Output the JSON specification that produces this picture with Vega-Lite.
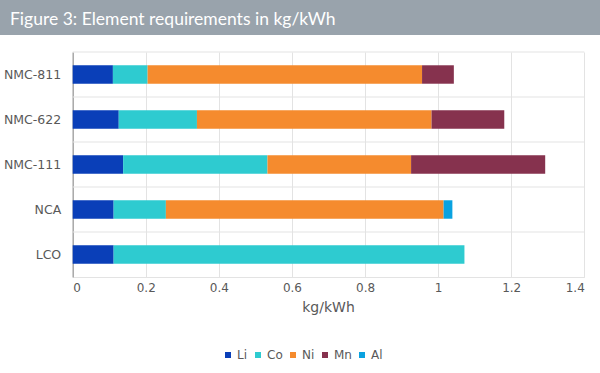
{
  "$schema": "https://vega.github.io/schema/vega-lite/v6.json",
  "padding": 0,
  "autosize": {"type": "pad"},
  "background": "white",
  "spacing": 16,
  "config": {"view": {"stroke": null}, "font": "DejaVu Sans"},
  "vconcat": [
    {
      "width": 600,
      "height": 35,
      "view": {"fill": "#99a3ac", "stroke": null},
      "data": {"values": [{"label": "Figure 3: Element requirements in kg/kWh"}]},
      "mark": {"type": "text", "align": "left", "baseline": "alphabetic", "color": "white", "fontSize": 17.5, "font": "Lato"},
      "encoding": {"text": {"field": "label"}, "x": {"value": 10}, "y": {"value": 24.5}}
    },
    {
      "width": 600,
      "height": 225,
      "layer": [
        {
          "data": {"values": [{"battery": "NMC-811"}, {"battery": "NMC-622"}, {"battery": "NMC-111"}, {"battery": "NCA"}, {"battery": "LCO"}]},
          "mark": {"type": "rule", "color": "#e3e3e3", "strokeWidth": 1},
          "encoding": {
            "y": {"field": "battery", "type": "nominal", "bandPosition": 0, "sort": ["NMC-811", "NMC-622", "NMC-111", "NCA", "LCO"]},
            "x": {"datum": 0},
            "x2": {"datum": 1.4}
          }
        },
        {
          "data": {
            "values": [
              {"battery": "NMC-811", "element": "Li", "value": 0.110},
              {"battery": "NMC-811", "element": "Co", "value": 0.095},
              {"battery": "NMC-811", "element": "Ni", "value": 0.751},
              {"battery": "NMC-811", "element": "Mn", "value": 0.087},
              {"battery": "NMC-622", "element": "Li", "value": 0.126},
              {"battery": "NMC-622", "element": "Co", "value": 0.214},
              {"battery": "NMC-622", "element": "Ni", "value": 0.642},
              {"battery": "NMC-622", "element": "Mn", "value": 0.199},
              {"battery": "NMC-111", "element": "Li", "value": 0.138},
              {"battery": "NMC-111", "element": "Co", "value": 0.395},
              {"battery": "NMC-111", "element": "Ni", "value": 0.393},
              {"battery": "NMC-111", "element": "Mn", "value": 0.367},
              {"battery": "NCA", "element": "Li", "value": 0.112},
              {"battery": "NCA", "element": "Co", "value": 0.143},
              {"battery": "NCA", "element": "Ni", "value": 0.760},
              {"battery": "NCA", "element": "Al", "value": 0.024},
              {"battery": "LCO", "element": "Li", "value": 0.112},
              {"battery": "LCO", "element": "Co", "value": 0.960}
            ]
          },
          "transform": [
            {"calculate": "indexof(['Li', 'Co', 'Ni', 'Mn', 'Al'], datum.element)", "as": "stackOrder"}
          ],
          "mark": {"type": "bar", "height": {"band": 0.41}},
          "encoding": {
            "y": {
              "field": "battery",
              "type": "nominal",
              "sort": ["NMC-811", "NMC-622", "NMC-111", "NCA", "LCO"]
            },
            "x": {
              "field": "value",
              "type": "quantitative",
              "stack": "zero"
            },
            "order": {"field": "stackOrder", "type": "quantitative"},
            "color": {
              "field": "element",
              "type": "nominal",
              "sort": ["Li", "Co", "Ni", "Mn", "Al"],
              "scale": {"domain": ["Li", "Co", "Ni", "Mn", "Al"], "range": ["#0a3fb8", "#2ecbd0", "#f58b2e", "#86324e", "#0aa2e0"]},
              "legend": {
                "title": null,
                "orient": "none",
                "legendX": 222,
                "legendY": 349,
                "direction": "horizontal",
                "padding": 0,
                "symbolType": "square",
                "symbolSize": 36,
                "symbolStrokeWidth": 0,
                "labelFontSize": 12,
                "labelColor": "#595959",
                "columnPadding": 4,
                "labelOffset": 3
              }
            }
          }
        }
      ],
      "encoding": {
        "y": {
          "field": "battery",
          "type": "nominal",
          "sort": ["NMC-811", "NMC-622", "NMC-111", "NCA", "LCO"],
          "scale": {"paddingInner": 0, "paddingOuter": 0},
          "axis": {
            "title": null,
            "grid": false,
            "ticks": false,
            "domain": true,
            "domainColor": "#a8a8a8",
            "domainWidth": 1.5,
            "offset": -72.7,
            "labelPadding": 12,
            "labelFontSize": 12.5,
            "labelColor": "#595959"
          }
        },
        "x": {
          "type": "quantitative",
          "scale": {"domain": [0, 1.4], "nice": false, "range": [72.7, 584.3]},
          "axis": {
            "values": [0, 0.2, 0.4, 0.6, 0.8, 1, 1.2, 1.4],
            "format": "~g",
            "grid": true,
            "gridColor": "#e3e3e3",
            "domain": true,
            "domainColor": "#e3e3e3",
            "ticks": false,
            "labelPadding": 5,
            "labelFontSize": 12,
            "labelColor": "#595959",
            "title": "kg/kWh",
            "titleX": 328,
            "titleFontSize": 14,
            "titleFontWeight": "normal",
            "titleColor": "#595959",
            "titlePadding": 7
          }
        }
      }
    }
  ]
}
